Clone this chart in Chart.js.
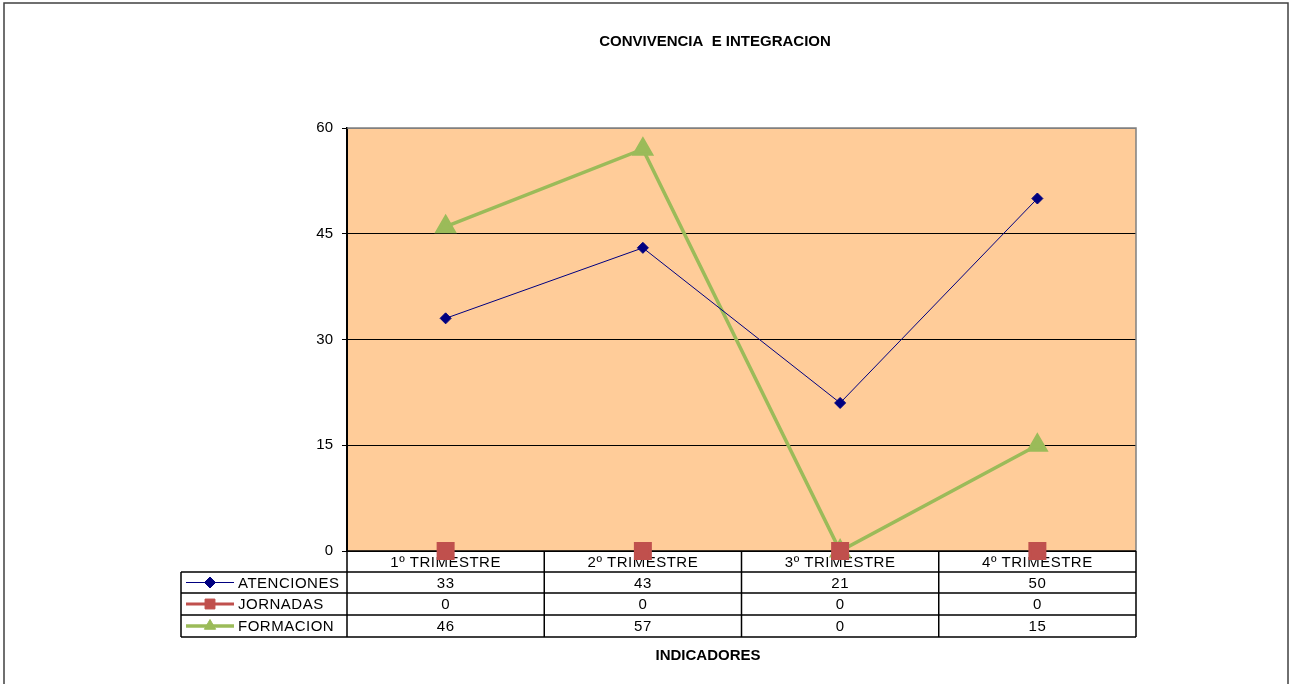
<!DOCTYPE html>
<html>
<head>
<meta charset="utf-8">
<script src="https://cdn.jsdelivr.net/npm/chart.js@4/dist/chart.umd.min.js"></script>
<style>
  body { margin: 0; background: #fff; }
  canvas { display: block; }
</style>
</head>
<body>
<canvas id="graphic" width="1289" height="684"></canvas>
<script>
const categories = ["1º TRIMESTRE", "2º TRIMESTRE", "3º TRIMESTRE", "4º TRIMESTRE"]
const atenciones = [33, 43, 21, 50]
const jornadas = [0, 0, 0, 0]
const formacion = [46, 57, 0, 15]
const seriesNames = ["ATENCIONES", "JORNADAS", "FORMACION"]
const yTicks = [0, 15, 30, 45, 60]

const FONT = "'Liberation Sans', Arial, sans-serif"

// frame, plot background
const backPlugin = {
  id: "back",
  beforeDraw(chart) {
    const ctx = chart.ctx
    const a = chart.chartArea
    ctx.save()
    ctx.fillStyle = "#fff"
    ctx.fillRect(0, 0, chart.width, chart.height)
    ctx.strokeStyle = "#404040"
    ctx.lineWidth = 1.5
    ctx.strokeRect(4, 3, 1284, 720)
    ctx.fillStyle = "#FFCC99"
    ctx.fillRect(a.left, a.top, a.right - a.left, a.bottom - a.top)
    ctx.restore()
  }
}

// data table under the plot + axis title
const tablePlugin = {
  id: "table",
  beforeDatasetsDraw(chart) {
    const ctx = chart.ctx
    const a = chart.chartArea
    const x = chart.scales.x
    ctx.save()
    // plot border top/right
    ctx.strokeStyle = "#808080"
    ctx.lineWidth = 1.5
    ctx.beginPath()
    ctx.moveTo(a.left, a.top)
    ctx.lineTo(a.right, a.top)
    ctx.lineTo(a.right, a.bottom)
    ctx.stroke()

    const step = (a.right - a.left) / categories.length
    const rows = [a.bottom, a.bottom + 21, a.bottom + 42, a.bottom + 64, a.bottom + 86]
    const legLeft = 181
    ctx.strokeStyle = "#000"
    ctx.lineWidth = 1.5
    ctx.beginPath()
    ctx.moveTo(a.left, rows[0]); ctx.lineTo(a.right, rows[0])
    for (let r = 1; r < rows.length; r++) {
      ctx.moveTo(legLeft, rows[r]); ctx.lineTo(a.right, rows[r])
    }
    ctx.moveTo(legLeft, rows[1]); ctx.lineTo(legLeft, rows[4])
    for (let c = 0; c <= categories.length; c++) {
      const cx = a.left + c * step
      ctx.moveTo(cx, rows[0]); ctx.lineTo(cx, rows[4])
    }
    ctx.stroke()

    ctx.fillStyle = "#000"
    ctx.font = "15px " + FONT
    ctx.letterSpacing = "0.5px"
    ctx.textAlign = "center"
    ctx.textBaseline = "middle"
    categories.forEach((c, i) => {
      ctx.fillText(c, x.getPixelForValue(i), (rows[0] + rows[1]) / 2 + 1)
    })
    const data = [atenciones, jornadas, formacion]
    data.forEach((vals, r) => {
      const cy = (rows[r + 1] + rows[r + 2]) / 2 + 1
      vals.forEach((v, i) => {
        ctx.fillText(String(v), x.getPixelForValue(i), cy)
      })
    })

    // legend keys
    chart.data.datasets.forEach((ds, r) => {
      const cy = (rows[r + 1] + rows[r + 2]) / 2
      ctx.strokeStyle = ds.borderColor
      ctx.lineWidth = ds.borderWidth
      ctx.beginPath()
      ctx.moveTo(186, cy); ctx.lineTo(234, cy)
      ctx.stroke()
      ctx.fillStyle = ds.pointBackgroundColor
      ctx.strokeStyle = ds.pointBorderColor
      ctx.lineWidth = 1
      Chart.helpers.drawPoint(ctx, { pointStyle: ds.pointStyle, radius: ds.legendRadius, borderWidth: 1, rotation: 0 }, 210, cy)
      ctx.fillStyle = "#000"
      ctx.textAlign = "left"
      ctx.fillText(seriesNames[r], 238, cy + 1)
    })

    ctx.textAlign = "center"
    ctx.letterSpacing = "0px"
    ctx.font = "bold 15px " + FONT
    ctx.fillText("INDICADORES", 708, 656)
    ctx.restore()
  }
}

const chart = new Chart(document.querySelector("#graphic"), {
  type: "line",
  data: {
    labels: categories,
    datasets: [
      {
        label: seriesNames[0],
        data: atenciones,
        borderColor: "#000080",
        borderWidth: 1,
        pointStyle: "rectRot",
        pointRadius: 5.5,
        legendRadius: 5.5,
        pointBackgroundColor: "#000080",
        pointBorderColor: "#000080",
      },
      {
        label: seriesNames[1],
        data: jornadas,
        borderColor: "#C0504D",
        borderWidth: 3,
        showLine: false,
        pointStyle: "rect",
        pointRadius: 10.6,
        legendRadius: 7,
        pointBackgroundColor: "#C0504D",
        pointBorderColor: "#C0504D",
      },
      {
        label: seriesNames[2],
        data: formacion,
        borderColor: "#9BBB59",
        borderWidth: 3.5,
        pointStyle: "triangle",
        pointRadius: 9.5,
        legendRadius: 6.5,
        pointBackgroundColor: "#9BBB59",
        pointBorderColor: "#9BBB59",
      },
    ],
  },
  options: {
    responsive: false,
    animation: false,
    devicePixelRatio: 1,
    clip: false,
    layout: { padding: { left: 294, right: 153, top: 0, bottom: 133 } },
    plugins: {
      legend: { display: false },
      tooltip: { enabled: false },
      title: {
        display: true,
        text: "CONVIVENCIA  E INTEGRACION",
        color: "#000",
        font: { family: FONT, size: 15, weight: "bold" },
        padding: { top: 33, bottom: 77 },
      },
    },
    elements: { line: { tension: 0 }, point: { hoverRadius: 0 } },
    scales: {
      x: { display: false, offset: true },
      y: {
        min: 0,
        max: 60,
        afterFit: s => { s.width = 53 },
        afterBuildTicks: s => { s.ticks = yTicks.map(v => ({ value: v })) },
        ticks: { color: "#000", padding: 9, font: { family: FONT, size: 15 } },
        grid: {
          color: c => (c.tick && c.tick.value === 60 ? "#808080" : "#000"),
          tickColor: "#000",
          tickLength: 5,
          lineWidth: 1,
        },
        border: { display: true, color: "#000", width: 2 },
      },
    },
  },
  plugins: [backPlugin, tablePlugin],
})
</script>
</body>
</html>
